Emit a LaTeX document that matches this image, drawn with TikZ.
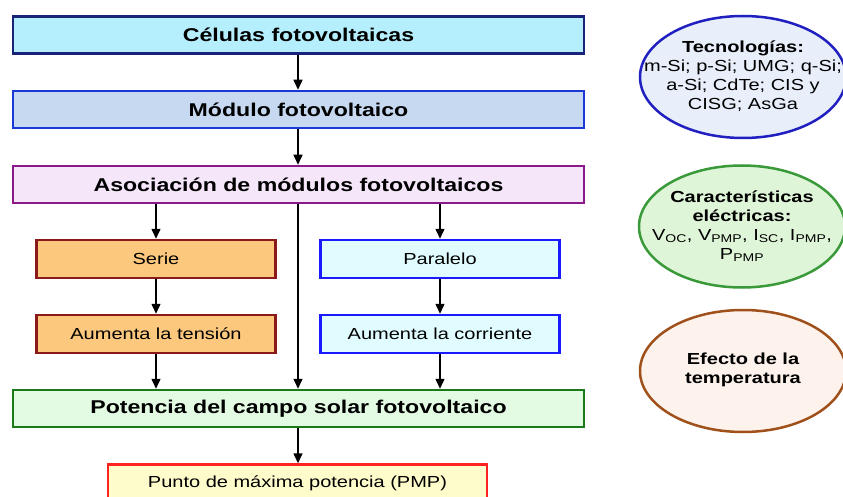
\documentclass[tikz,border=0pt]{standalone}
\usepackage{fontspec}
\setmainfont[FakeStretch=1.25]{Liberation Sans}
\usetikzlibrary{shapes.geometric,arrows.meta}
\definecolor{celfill}{HTML}{B5EFFD}
\definecolor{celdraw}{HTML}{1A237A}
\definecolor{modfill}{HTML}{C6D9F0}
\definecolor{moddraw}{HTML}{1A3AD8}
\definecolor{asofill}{HTML}{F5E6FA}
\definecolor{asodraw}{HTML}{8A1A8A}
\definecolor{serfill}{HTML}{FBC87E}
\definecolor{serdraw}{HTML}{8A1A1A}
\definecolor{parfill}{HTML}{E0FCFF}
\definecolor{pardraw}{HTML}{1A1AFF}
\definecolor{potfill}{HTML}{E2FBE2}
\definecolor{potdraw}{HTML}{1A7A1A}
\definecolor{pmpfill}{HTML}{FFFCCC}
\definecolor{pmpdraw}{HTML}{FF2020}
\definecolor{tecfill}{HTML}{E8EEFA}
\definecolor{tecdraw}{HTML}{2020C0}
\definecolor{carfill}{HTML}{DFF5D8}
\definecolor{cardraw}{HTML}{3A9A3A}
\definecolor{efefill}{HTML}{FDF3EC}
\definecolor{efedraw}{HTML}{A0501A}
\tikzset{
  box/.style={draw, line width=2.5pt, rectangle, inner sep=0pt, align=center},
  bigbox/.style={box, minimum width=571pt, minimum height=37pt, font=\fontsize{18.5}{21}\selectfont\bfseries},
  smallbox/.style={box, minimum width=239pt, minimum height=38pt, font=\fontsize{16}{19}\selectfont},
  oval/.style={ellipse, draw, line width=2.5pt, inner sep=0pt, minimum width=206pt, minimum height=122pt},
  ovaltext/.style={inner sep=0pt, align=center, font=\fontsize{16}{19}\selectfont},
  arr/.style={line width=1.5pt, -{Triangle[length=10pt,width=9pt]}}
}
\begin{document}
\begin{tikzpicture}[x=1pt,y=1pt]
\useasboundingbox (0,0) rectangle (843,-497);
\clip (0,0) rectangle (843,-497);
\fill[white] (0,0) rectangle (843,-497);
\node[bigbox, fill=celfill, draw=celdraw] (cel) at (298.5,-35) {Células fotovoltaicas};
\node[bigbox, fill=modfill, draw=moddraw] (mod) at (298.5,-109.5) {Módulo fotovoltaico};
\node[bigbox, fill=asofill, draw=asodraw] (aso) at (298.5,-184.5) {Asociación de módulos fotovoltaicos};
\node[smallbox, fill=serfill, draw=serdraw] (ser) at (156,-259) {Serie};
\node[smallbox, fill=parfill, draw=pardraw] (par) at (440,-259) {Paralelo};
\node[smallbox, fill=serfill, draw=serdraw] (ten) at (156,-334) {Aumenta la tensión};
\node[smallbox, fill=parfill, draw=pardraw] (cor) at (440,-334) {Aumenta la corriente};
\node[bigbox, fill=potfill, draw=potdraw] (pot) at (298.5,-408.5) {Potencia del campo solar fotovoltaico};
\node[smallbox, minimum width=379pt, minimum height=38pt, fill=pmpfill, draw=pmpdraw] (pmp) at (297.5,-483.5) {Punto de máxima potencia (PMP)};
\draw[arr] (cel.south -| 298,0) -- (mod.north -| 298,0);
\draw[arr] (mod.south -| 298,0) -- (aso.north -| 298,0);
\draw[arr] (aso.south -| ser) -- (ser.north);
\draw[arr] (aso.south -| par) -- (par.north);
\draw[arr] (ser.south) -- (ten.north);
\draw[arr] (par.south) -- (cor.north);
\draw[arr] (ten.south) -- (pot.north -| ten);
\draw[arr] (cor.south) -- (pot.north -| cor);
\draw[arr] (aso.south -| 298,0) -- (pot.north -| 298,0);
\draw[arr] (pot.south -| 298,0) -- (pmp.north -| 298,0);
\node[oval, fill=tecfill, draw=tecdraw] (tec) at (743,-77) {};
\node[ovaltext] (tect) at (743,-76) {\textbf{Tecnologías:}\\m-Si; p-Si; UMG; q-Si;\\a-Si; CdTe; CIS y\\CISG; AsGa};
\node[oval, fill=carfill, draw=cardraw] (car) at (742,-226.5) {};
\node[ovaltext] (cart) at (742,-226) {\textbf{Características}\\\textbf{eléctricas:}\\V\textsubscript{OC}, V\textsubscript{PMP}, I\textsubscript{SC}, I\textsubscript{PMP},\\P\textsubscript{PMP}};
\node[oval, fill=efefill, draw=efedraw] (efe) at (743,-371) {};
\node[ovaltext, font=\fontsize{16}{19}\selectfont\bfseries] (efet) at (743,-370) {Efecto de la\\temperatura};
\end{tikzpicture}
\end{document}
